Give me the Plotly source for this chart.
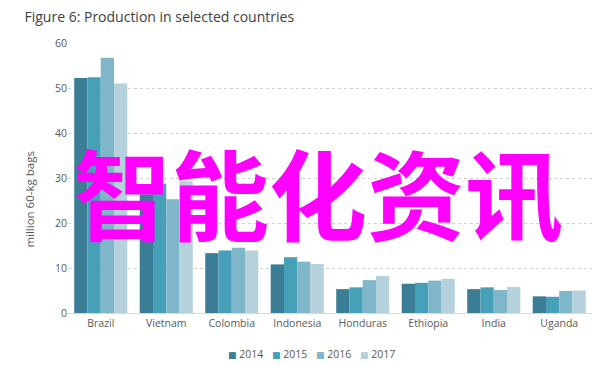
import plotly.graph_objects as go

countries = ["Brazil", "Vietnam", "Colombia", "Indonesia", "Honduras", "Ethiopia", "India", "Uganda"]
years = ["2014", "2015", "2016", "2017"]
v2014 = [52.2, 26.4, 13.3, 10.8, 5.3, 6.5, 5.3, 3.7]
v2015 = [52.4, 28.7, 13.9, 12.4, 5.7, 6.7, 5.7, 3.6]
v2016 = [56.7, 25.3, 14.5, 11.4, 7.3, 7.2, 5.1, 4.9]
v2017 = [51.0, 29.3, 13.9, 10.9, 8.2, 7.6, 5.8, 5.0]
series = [v2014, v2015, v2016, v2017]
colors = ["#3a7d94", "#45a0b8", "#7fb6c9", "#b4d1dc"]

fig = go.Figure()
for name, vals, c in zip(years, series, colors):
    fig.add_trace(go.Bar(x=countries, y=vals, name=name, marker=dict(color=c, line=dict(width=0))))

fig.update_layout(
    width=612, height=366,
    margin=dict(l=68, r=20, t=43, b=53, autoexpand=False),
    paper_bgcolor="white", plot_bgcolor="white",
    barmode="group", bargap=0.19, bargroupgap=0,
    font=dict(family="Open Sans, DejaVu Sans, sans-serif", color="#595959", size=10),
    title=dict(text="Figure 6: Production in selected countries", x=0.04, xanchor="left",
               y=0.953, yanchor="middle", font=dict(size=14, color="#404040")),
    showlegend=False,
)
fig.update_yaxes(range=[0, 60], dtick=10, showgrid=True, gridcolor="#d0d0d0", griddash="dot",
                 gridwidth=1, zeroline=False, showline=False, ticks="", ticklen=0,
                 tickfont=dict(size=10.5, color="#595959"))
fig.update_xaxes(showline=True, linecolor="#d9d9d9", linewidth=1, ticks="",
                 tickfont=dict(size=10.5, color="#595959"))

# y-axis title (placed as in the reference, below the axis centre)
fig.add_annotation(text="million 60-kg bags", x=-0.0725, y=0.42, xref="paper", yref="paper",
                   textangle=-90, xanchor="center", yanchor="middle", showarrow=False,
                   font=dict(size=11.5, color="#595959"))

# compact legend built from the series names/colours
leg_x0 = 0.301
leg_dx = 0.084
for i, (name, c) in enumerate(zip(years, colors)):
    fig.add_annotation(text=f"<span style='color:{c};font-size:9px'>■</span> {name}",
                       x=leg_x0 + i * leg_dx, y=-0.152,
                       xref="paper", yref="paper", xanchor="left", yanchor="middle", showarrow=False,
                       font=dict(size=10.5, color="#595959"))

fig.add_annotation(text="<b>智能化资讯</b>", x=0.478, y=0.457, xref="paper", yref="paper",
                   xanchor="center", yanchor="middle", showarrow=False,
                   font=dict(family="Noto Sans CJK SC", size=98, color="#ff00ff"))

fig.write_html("out.html", config={"displayModeBar": False},
               post_script="document.body.style.margin='0';document.body.style.overflow='hidden';")
